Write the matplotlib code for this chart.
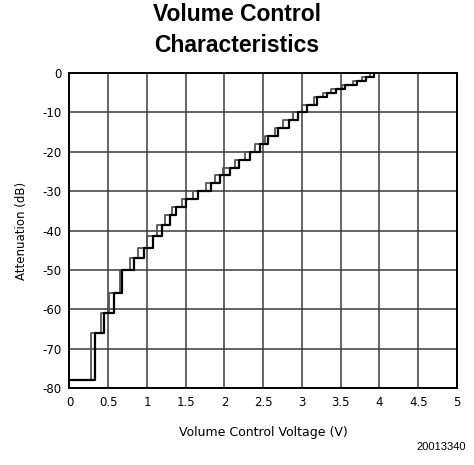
import matplotlib.pyplot as plt

plt.rcParams['axes.unicode_minus'] = False

# attenuation steps (dB) and the control voltages where each step is reached
levels = [-78, -66, -61, -56, -50, -47, -44.5, -41.5, -38.5, -36, -34, -32, -30,
          -28, -26, -24, -22, -20, -18, -16, -14, -12, -10, -8, -6, -5, -4, -3,
          -2, -1, 0]
v_falling = [0.28, 0.41, 0.51, 0.65, 0.78, 0.88, 1.00, 1.13, 1.23, 1.32, 1.45,
             1.60, 1.76, 1.88, 1.98, 2.14, 2.26, 2.39, 2.52, 2.65, 2.76, 2.89,
             3.00, 3.15, 3.27, 3.38, 3.51, 3.66, 3.77, 3.88]
v_rising = [0.33, 0.45, 0.58, 0.68, 0.83, 0.96, 1.08, 1.19, 1.30, 1.38, 1.50,
            1.66, 1.82, 1.94, 2.07, 2.19, 2.33, 2.46, 2.56, 2.69, 2.83, 2.95,
            3.06, 3.19, 3.32, 3.44, 3.55, 3.71, 3.82, 3.93]
v_end = 3.93

x_ticks = [0, 0.5, 1, 1.5, 2, 2.5, 3, 3.5, 4, 4.5, 5]
x_labels = ['0', '0.5', '1', '1.5', '2', '2.5', '3', '3.5', '4', '4.5', '5']
y_ticks = [-80, -70, -60, -50, -40, -30, -20, -10, 0]

fig = plt.figure(figsize=(4.74, 4.65), dpi=100)
ax = fig.add_axes([0.1466, 0.1656, 0.8175, 0.6774])

ax.step([0] + v_falling + [v_end], levels + [0], where='post',
        color='#555555', linewidth=1.3)
ax.step([0] + v_rising + [v_end], levels + [0], where='post',
        color='black', linewidth=1.6)

ax.set_xlim(0, 5)
ax.set_ylim(-80, 0)
ax.set_xticks(x_ticks)
ax.set_xticklabels(x_labels)
ax.set_yticks(y_ticks)
ax.grid(True, color='#3a3a3a', linewidth=1.1)
ax.set_axisbelow(True)
ax.tick_params(length=0, labelsize=8.5, pad=6)
for side in ax.spines.values():
    side.set_linewidth(1.4)

ax.set_xlabel('Volume Control Voltage (V)', fontsize=9, labelpad=12)
ax.set_ylabel('Attenuation (dB)', fontsize=8.5, labelpad=10)

fig.text(0.5, 1 - 30 / 465, 'Volume Control\nCharacteristics',
         ha='center', va='center', fontsize=16.5, fontweight='bold',
         family='Liberation Sans', linespacing=1.4)
fig.text(466 / 474, 1 - 447 / 465, '20013340', ha='right', va='center',
         fontsize=8, family='Liberation Sans')

fig.savefig('out.png', dpi=100)
